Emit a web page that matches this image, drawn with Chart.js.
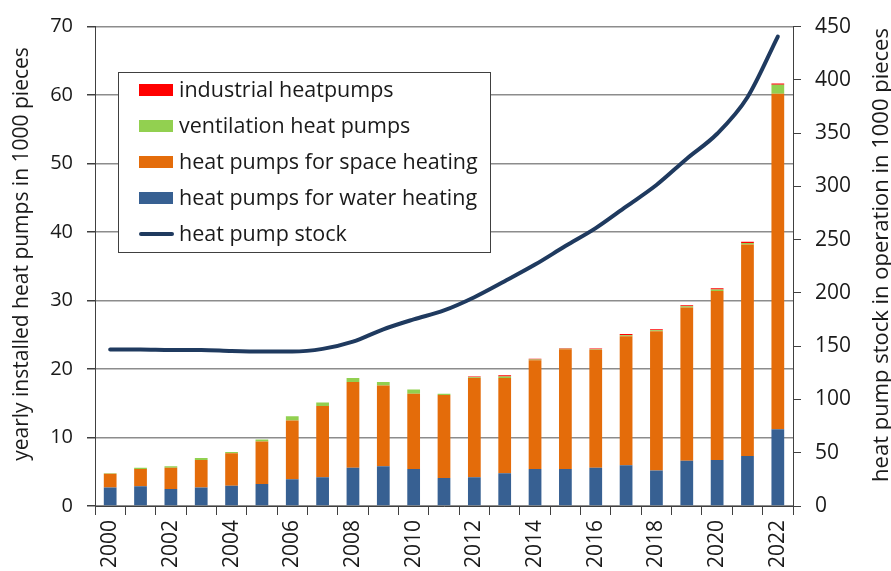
<!DOCTYPE html>
<html>
<head>
<meta charset="utf-8">
<script src="https://cdn.jsdelivr.net/npm/chart.js@4.4.1/dist/chart.umd.min.js"></script>
<style>
  body { margin: 0; background: #fff; }
  #wrap { width: 891px; height: 571px; }
</style>
</head>
<body>
<div id="wrap"><canvas id="hp-chart" width="891" height="571"></canvas></div>
<script>
// values (1000 pieces)
const years = ["2000", "2001", "2002", "2003", "2004", "2005", "2006", "2007", "2008", "2009", "2010", "2011",
	"2012", "2013", "2014", "2015", "2016", "2017", "2018", "2019", "2020", "2021", "2022"];
const waterHeating = [2.7, 2.9, 2.5, 2.7, 2.95, 3.2, 3.9, 4.2, 5.6, 5.8, 5.4, 4.1, 4.2, 4.8, 5.4, 5.4, 5.6, 5.95, 5.2, 6.6, 6.7, 7.3, 11.2];
const spaceHeating = [2.0, 2.5, 3.1, 4.0, 4.75, 6.2, 8.6, 10.4, 12.5, 11.8, 11.0, 12.1, 14.5, 13.9, 15.9, 17.5, 17.2, 18.85, 20.3, 22.4, 24.7, 30.9, 49.0];
const ventilation = [0.1, 0.2, 0.2, 0.3, 0.2, 0.3, 0.6, 0.5, 0.6, 0.5, 0.6, 0.2, 0.1, 0.2, 0.1, 0.05, 0.1, 0.15, 0.15, 0.15, 0.2, 0.2, 1.3];
const industrial = [0, 0, 0, 0, 0, 0, 0, 0, 0, 0, 0, 0, 0.1, 0.2, 0.1, 0.1, 0.1, 0.15, 0.15, 0.15, 0.2, 0.2, 0.2];
const stock = [147, 147, 146.5, 146.5, 145.5, 145, 145, 147.5, 154.3, 165.9, 175.2, 183.6, 196, 211, 226.6, 244, 260.8, 281, 301.3, 326, 349.4, 383.7, 440.6];

const leftTicks = { min: 0, max: 70, step: 10 };
const rightTicks = { min: 0, max: 450, step: 50 };
const leftTitle = "yearly installed heat pumps in 1000 pieces";
const rightTitle = "heat pump stock in operation in 1000 pieces";

const FONT = "'Open Sans', sans-serif";
const TEXT = "#1a1a1a";
Chart.defaults.font.family = FONT;
Chart.defaults.color = TEXT;

// legend box drawn inside the plot, plus both axis titles (both read bottom to top)
const overlayPlugin = {
	id: "overlay",
	afterDraw(chart) {
		const ctx = chart.ctx;
		const ds = chart.data.datasets;
		const items = ds.filter((d) => d.type !== "line").reverse().concat(ds.filter((d) => d.type === "line"));

		ctx.save();
		ctx.fillStyle = "#fff";
		ctx.fillRect(118, 72, 372, 180);
		ctx.strokeStyle = "#404040";
		ctx.lineWidth = 1;
		ctx.strokeRect(118.5, 72.5, 372, 180);

		ctx.font = "21.5px " + FONT;
		ctx.textBaseline = "middle";
		items.forEach((d, i) => {
			let y = 90 + i * 36;
			if (d.type === "line") {
				ctx.strokeStyle = d.borderColor;
				ctx.lineWidth = 4;
				ctx.lineCap = "round";
				ctx.beginPath();
				ctx.moveTo(141, y);
				ctx.lineTo(172, y);
				ctx.stroke();
			} else {
				ctx.fillStyle = d.backgroundColor;
				ctx.fillRect(139, y - 6, 34, 12);
			}
			ctx.fillStyle = TEXT;
			ctx.fillText(d.label, 179, y + 1);
		});
		ctx.restore();

		ctx.save();
		ctx.fillStyle = TEXT;
		ctx.textAlign = "center";
		ctx.textBaseline = "middle";
		ctx.font = "21px " + FONT;
		ctx.translate(22, 254);
		ctx.rotate(-Math.PI / 2);
		ctx.fillText(leftTitle, 0, 0);
		ctx.restore();

		ctx.save();
		ctx.fillStyle = TEXT;
		ctx.textAlign = "center";
		ctx.textBaseline = "middle";
		ctx.font = "22px " + FONT;
		ctx.translate(882, 255);
		ctx.rotate(-Math.PI / 2);
		ctx.fillText(rightTitle, 0, 0);
		ctx.restore();
	},
};

const ctx = document.getElementById("hp-chart").getContext("2d");

new Chart(ctx, {
	type: "bar",
	data: {
		labels: years,
		datasets: [
			{ label: "heat pumps for water heating", data: waterHeating, backgroundColor: "#376092", order: 1 },
			{ label: "heat pumps for space heating", data: spaceHeating, backgroundColor: "#e46c0a", order: 1 },
			{ label: "ventilation heat pumps", data: ventilation, backgroundColor: "#92d050", order: 1 },
			{ label: "industrial heatpumps", data: industrial, backgroundColor: "#ff0000", order: 1 },
			{
				type: "line",
				label: "heat pump stock",
				data: stock,
				yAxisID: "y1",
				borderColor: "#1f3a5f",
				borderWidth: 4,
				pointRadius: 0,
				cubicInterpolationMode: "monotone",
				borderCapStyle: "round",
				order: 0,
			},
		],
	},
	options: {
		responsive: false,
		animation: false,
		layout: { padding: { top: 24, left: 0, right: 0, bottom: 0 } },
		datasets: { bar: { barPercentage: 0.42, categoryPercentage: 1 } },
		plugins: {
			legend: { display: false },
			tooltip: { enabled: false },
		},
		scales: {
			x: {
				stacked: true,
				offset: true,
				grid: { offset: true, drawOnChartArea: false, tickLength: 9, tickColor: "#404040" },
				border: { color: "#404040", width: 1 },
				ticks: {
					autoSkip: false,
					minRotation: 90,
					maxRotation: 90,
					padding: 5,
					font: { size: 21 },
					callback: (val, i) => (i % 2 === 0 ? years[i] : ""),
				},
				afterFit: (scale) => { scale.height = 65; },
			},
			y: {
				stacked: true,
				position: "left",
				min: leftTicks.min,
				max: leftTicks.max,
				ticks: { stepSize: leftTicks.step, padding: 14, font: { size: 20 } },
				grid: { color: "#8c8c8c", lineWidth: 1.5, tickLength: 8, tickColor: "#404040" },
				border: { color: "#404040", width: 1 },
				afterFit: (scale) => { scale.width = 95; },
			},
			y1: {
				position: "right",
				min: rightTicks.min,
				max: rightTicks.max,
				ticks: { stepSize: rightTicks.step, padding: 14, font: { size: 21 } },
				grid: { drawOnChartArea: false, tickLength: 8, tickColor: "#404040" },
				border: { color: "#404040", width: 1 },
				afterFit: (scale) => { scale.width = 98; },
			},
		},
	},
	plugins: [overlayPlugin],
});
</script>
</body>
</html>
